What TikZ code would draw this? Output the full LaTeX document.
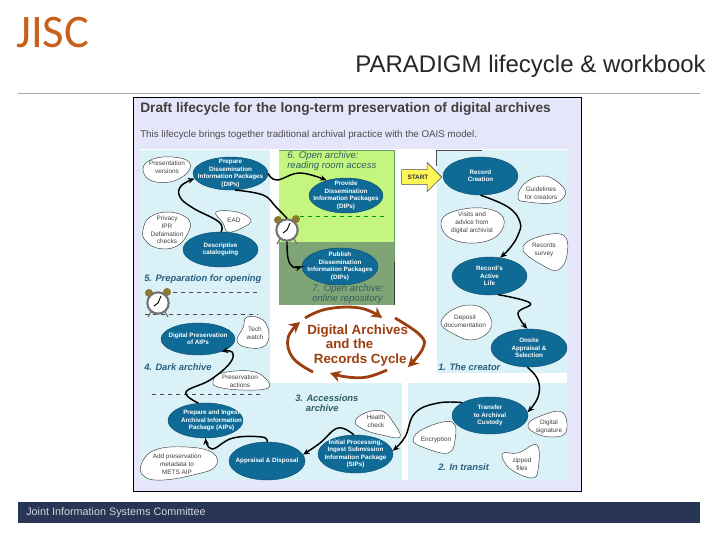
\documentclass[tikz,border=0pt]{standalone}
\usepackage{fontspec}
\setmainfont{Liberation Sans}
\newfontfamily\jiscfont{Carlito}
\usetikzlibrary{arrows.meta,shapes.geometric,shapes.arrows}
\definecolor{panelblue}{HTML}{D9F1F7}
\definecolor{lilacbg}{HTML}{E6E6FB}
\definecolor{ovalblue}{HTML}{0F6A96}
\definecolor{lime}{HTML}{C4F57F}
\definecolor{darkgreen}{HTML}{7FA577}
\definecolor{navyband}{HTML}{283555}
\definecolor{jiscorange}{HTML}{C8601A}
\definecolor{rust}{HTML}{9C3F10}
\definecolor{labelblue}{HTML}{2A5F80}
\definecolor{labelgreen}{HTML}{2F5F60}
\definecolor{bell}{HTML}{8A7A30}
\tikzset{
 x=0.75pt,y=-0.75pt,
 oval/.style 2 args={ellipse,fill=ovalblue,draw=ovalblue!70!black,line width=.3pt,inner sep=-15pt,minimum width=#1*.75pt,minimum height=#2*.75pt,text=white,font=\fontsize{4.7}{5.6}\selectfont\bfseries,align=center},
 note/.style={inner sep=0pt,font=\fontsize{4.8}{5.8}\selectfont,align=center,text=black!75},
 blob/.style={draw=black!75,line width=.35pt,fill=white},
 flow/.style={-{Stealth[length=5pt,width=4.2pt]},line width=1.1pt,black},
 flowplain/.style={line width=1.1pt,black},
 phase/.style={font=\fontsize{7}{7.8}\selectfont\bfseries\itshape,text=labelblue,align=left,inner sep=0pt,anchor=west},
 phasegreen/.style={font=\fontsize{7.2}{7.8}\selectfont\itshape,text=labelgreen,align=left,inner sep=0pt,anchor=west},
 phasedash/.style={dashed,black!70,line width=.4pt},
 rustarrow/.style={-{Stealth[length=8pt,width=8.5pt]},line width=2.1pt,rust},
 clockface/.style={circle,fill=white,draw=black!55,line width=1.6pt,inner sep=0pt,minimum size=16pt},
}
\newcommand{\clockparts}[2]{%
 \fill[bell] (#1-9,#2-10) circle (4);
 \fill[bell] (#1+9,#2-11) circle (4);
 \draw[black!55,line width=.9pt] (#1-7,#2+9) -- (#1-10,#2+14) (#1+7,#2+9) -- (#1+10,#2+14);
}
\newcommand{\clockhands}[2]{%
 \draw[black,line width=.7pt] (#1,#2) -- (#1+3,#2-7) (#1,#2) -- (#1-4,#2+3);
}
\newcommand{\blobpath}[1]{\path[blob] plot[smooth cycle,tension=.7] coordinates {#1};}
\begin{document}
\begin{tikzpicture}
\useasboundingbox (0,0) rectangle (720,540);
\fill[white] (0,0) rectangle (720,540);
% header
\node[font=\jiscfont\fontsize{35}{35}\selectfont,text=jiscorange,inner sep=0pt,anchor=base west] (logo) at (16,47) {JISC};
\node[font=\fontsize{18}{20}\selectfont,text=black!85,inner sep=0pt,anchor=east] (title) at (706,66) {PARADIGM lifecycle \& workbook};
\draw[black!35,line width=.6pt] (18,93.5) -- (700,93.5);
% footer
\fill[navyband] (18,502) rectangle (700,523);
\node[font=\fontsize{8.1}{9}\selectfont,text=white!80!navyband,inner sep=0pt,anchor=west] (foot) at (26,513) {Joint Information Systems Committee};
% figure frame
\draw[fill=lilacbg,draw=black,line width=.7pt] (133,97) rectangle (581,491);
\node[font=\fontsize{10.3}{12}\selectfont\bfseries,text=black!75,inner sep=0pt,anchor=west] (h1) at (140,108.5) {Draft lifecycle for the long-term preservation of digital archives};
\node[font=\fontsize{7.33}{9}\selectfont,text=black!70,inner sep=0pt,anchor=west] (h2) at (140,134.5) {This lifecycle brings together traditional archival practice with the OAIS model.};
% panels
\fill[white] (140,149) rectangle (567,480);
\fill[panelblue] (140,150) rectangle (270,383);
\fill[panelblue] (140,383) rectangle (402,480);
\fill[panelblue] (437,150) rectangle (567,373);
\fill[panelblue] (408,383) rectangle (567,480);
\fill[lime] (279,150) rectangle (394,242);
\fill[darkgreen] (279,242) rectangle (394,305);
\draw[green!35!black!60,line width=.5pt] (279,150) -- (394,150) -- (394,262);
\draw[black!80,line width=.7pt] (394,262) -- (394,305);
\draw[black!70,line width=.7pt] (436.5,166) -- (436.5,150) -- (482,150);
% dashed
\draw[phasedash] (173,292) -- (258,292);
\draw[phasedash] (145,314) -- (258,314);
\draw[phasedash] (152,394) -- (263,394);
\draw[green!60!black,dashed,line width=.4pt] (300,216) -- (385,216);
% phase labels
\node[phasegreen] (p6) at (287,161) {6. Open archive:\\reading room access};
\node[phase] (p5) at (144,279) {5. Preparation for opening};
\node[phasegreen] (p7) at (312,294) {7. Open archive:\\online repository};
\node[phase] (p4) at (144,367) {4. Dark archive};
\node[phase,text=labelgreen] (p3) at (295,403) {3. Accessions\\\hspace*{8pt}archive};
\node[phase] (p1) at (438,367) {1. The creator};
\node[phase] (p2) at (438,467) {2. In transit};
% notes
\blobpath{(143,168) (153,159) (173,157) (189,162) (187,173) (170,182) (150,180)}
\node[note] (n1) at (167,167.5) {Presentation\\versions};
\blobpath{(143,230) (150,217) (170,212) (189,220) (187,235) (175,247) (157,248) (145,240)}
\node[note] (n2) at (167,230) {Privacy\\IPR\\Defamation\\checks};
\blobpath{(216,212) (237,212) (251,220) (242,228) (228,232) (223,223)}
\node[note] (n3) at (234,220) {EAD};
\blobpath{(247,317) (263,320) (269,335) (263,347) (245,347) (237,340) (243,328)}
\node[note] (n4) at (255,333) {Tech\\watch};
\blobpath{(213,381) (222,373) (250,371) (265,378) (268,388) (243,390) (218,387)}
\node[note] (n5) at (240,381) {Preservation\\actions};
\blobpath{(141,465) (155,450) (187,447) (213,453) (215,467) (193,475) (163,480) (145,477)}
\node[note] (n6) at (177,464) {Add preservation\\metadata to\\METS AIP};
\blobpath{(518,198) (525,183) (545,176) (563,187) (564,197) (552,203) (528,202)}
\node[note] (n7) at (541,193) {Guidelines\\for creators};
\blobpath{(441,223) (452,212) (482,208) (503,217) (498,235) (475,243) (450,238)}
\node[note] (n8) at (472,223) {Visits and\\advice from\\digital archivist};
\blobpath{(523,250) (535,238) (563,235) (567,255) (558,270) (542,265)}
\node[note] (n9) at (544,250) {Records\\survey};
\blobpath{(441,323) (452,310) (472,305) (488,313) (490,330) (472,340) (452,333)}
\node[note] (n10) at (465,321) {Deposit\\documentation};
\blobpath{(528,425) (538,417) (562,412) (566,432) (552,437) (535,433)}
\node[note] (n11) at (549,427) {Digital\\signature};
\blobpath{(413,440) (425,428) (452,422) (455,440) (448,453) (425,448)}
\node[note] (n12) at (436,440) {Encryption};
\blobpath{(503,453) (518,453) (537,445) (538,470) (532,478) (515,472) (505,463)}
\node[note] (n13) at (522,464) {zipped\\files};
\blobpath{(355,422) (365,413) (382,411) (393,422) (400,437) (382,435) (365,430)}
\node[note] (n14) at (376,421) {Health\\check};
% ovals
\node[oval={75}{33}] (dip) at (230.5,173.5) {Prepare\\Dissemination\\Information Packages\\(DIPs)};
\node[oval={75}{35}] (cat) at (220.5,249.5) {Descriptive\\cataloguing};
\node[oval={74}{35}] (pdip) at (346,195.5) {Provide\\Dissemination\\Information Packages\\(DIPs)};
\node[oval={76}{37}] (pub) at (340,266.5) {Publish\\Dissemination\\Information Packages\\(DIPs)};
\node[oval={75}{38}] (rec) at (480.5,176) {Record\\Creation};
\node[oval={75}{38}] (act) at (489.5,276) {Record's\\Active\\Life};
\node[oval={76}{38}] (app) at (529,348) {Onsite\\Appraisal \&\\Selection};
\node[oval={76}{37}] (tra) at (490,415.5) {Transfer\\to Archival\\Custody};
\node[oval={75}{38}] (sip) at (355.5,454) {Initial Processing,\\Ingest Submission\\Information Package\\(SIPs)};
\node[oval={76}{38}] (dis) at (267,461) {Appraisal \& Disposal};
\node[oval={75}{35}] (aip) at (205.5,420.5) {\hspace*{9pt}Prepare and Ingest\\\hspace*{9pt}Archival Information\\\hspace*{9pt}Package (AIPs)};
\node[oval={74}{32}] (dp) at (198,339) {Digital Preservation\\of AIPs};
% start arrow
\node[single arrow,draw=black!70,line width=.4pt,fill=yellow!65,font=\fontsize{4.8}{5.5}\selectfont\bfseries,text=black!80,inner ysep=3.6pt,inner xsep=1pt,single arrow head extend=5.4pt,minimum height=30pt,anchor=tip] (start) at (442,177) {\hspace*{3pt}START\hspace*{3pt}};
% flows
\draw[flow] plot[smooth,tension=.7] coordinates {(dip.east) (277,180) (300,173) (pdip.142)};
\draw[flow] plot[smooth,tension=.7] coordinates {(cat.88) (219,222) (193,208) (180,197) (181,186) (dip.188)};
\draw[flow] plot[smooth,tension=.7] coordinates {(aip.112) (186,392) (210,380) (230,363) (232,352) (dp.-28)};
\draw[flow] plot[smooth,tension=.7] coordinates {(dis.90) (262,437) (233,438) (212,449) (aip.-90)};
\draw[flow] plot[smooth,tension=.7] coordinates {(sip.95) (338,428) (320,443) (dis.10)};
\draw[flow] plot[smooth,tension=.7] coordinates {(tra.155) (438,403) (415,413) (405,437) (sip.5)};
\draw[flow] plot[smooth,tension=.7] coordinates {(app.-95) (538,380) (538,397) (tra.5)};
\draw[flow] plot[smooth,tension=.7] coordinates {(act.-65) (530,303) (518,313) (app.95)};
\draw[flow] plot[smooth,tension=.7] coordinates {(rec.-90) (508,207) (520,222) (518,235) (510,248) (act.60)};
% clocks
\clockparts{287}{230}
\clockparts{158}{303}
\node[clockface] (ck1) at (287,230) {};
\node[clockface] (ck2) at (158,303) {};
\clockhands{287}{230}
\clockhands{158}{303}
\draw[flowplain] plot[smooth,tension=.7] coordinates {(dip.-75) (263,195) (276,207) (ck1.north)};
\draw[flow] plot[smooth,tension=.7] coordinates {(ck1.south) (288,258) (293,267) (pub.west)};
% centre
\node[font=\fontsize{10}{11}\selectfont\bfseries,text=rust,align=left,inner sep=0pt,anchor=west] (cyc) at (307,345.5) {Digital Archives\\\hspace*{14pt}and the\\\hspace*{5pt}Records Cycle};
\coordinate (a1) at (313,372); \coordinate (a2) at (300,322);
\coordinate (b1) at (305,318); \coordinate (b2) at (382,318);
\coordinate (c1) at (395,318); \coordinate (c2) at (408,367);
\coordinate (d1) at (387,370); \coordinate (d2) at (330,373);
\draw[rustarrow] plot[smooth,tension=.7] coordinates {(a1) (293,358) (288,338) (a2)};
\draw[rustarrow] plot[smooth,tension=.7] coordinates {(b1) (327,309) (360,308) (b2)};
\draw[rustarrow] plot[smooth,tension=.7] coordinates {(c1) (420,335) (423,348) (c2)};
\draw[rustarrow] plot[smooth,tension=.7] coordinates {(d1) (367,377) (347,377) (d2)};
\end{tikzpicture}
\end{document}
